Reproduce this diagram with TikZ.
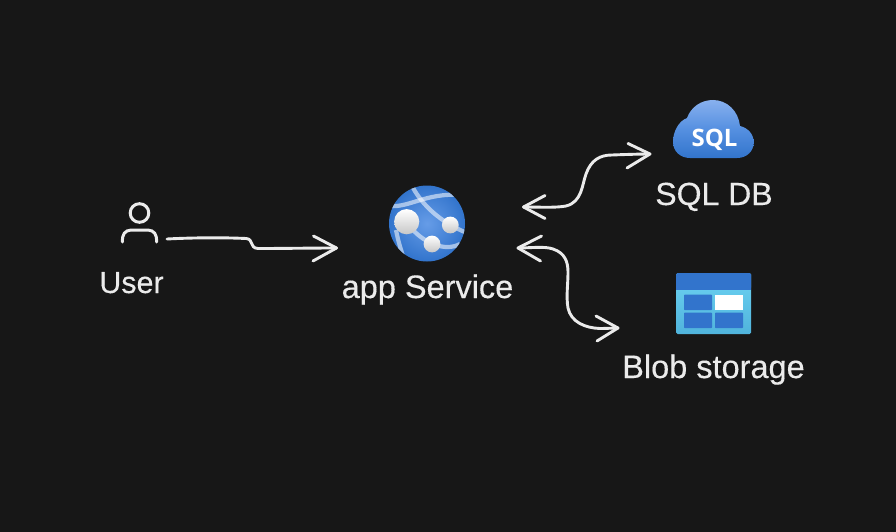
\documentclass[tikz,border=0pt]{standalone}
\usepackage{fontspec}
\setmainfont{Liberation Sans}
\newfontfamily\labelfont{Liberation Sans}[FakeBold=0.3]
\newfontfamily\sqlfont{Open Sans}
\definecolor{bg}{HTML}{171717}
\definecolor{ink}{HTML}{EBEBEB}
\definecolor{azure}{HTML}{3274CC}
\definecolor{azurelt}{HTML}{5E97E6}
\definecolor{azuresky}{HTML}{88B0EE}
\definecolor{blobsky}{HTML}{6DD2F2}
\definecolor{blobsea}{HTML}{50B4DC}
\tikzset{
  x=1pt,y=-1pt,
  label text/.style={text=ink,anchor=base,inner sep=0pt,font=\labelfont\fontsize{#1}{#1}\selectfont},
  wire/.style={draw=ink,line width=2.9pt,line cap=round,line join=round},
  glyph/.style={draw=ink,line width=3pt,line cap=round},
  cell/.style={fill=azure,rounded corners=0.6pt},
  ball/.style={top color=white,middle color=white,bottom color=white!78!black},
  mesh/.style={draw=white,draw opacity=0.55,line width=4.2pt},
}
\begin{document}
\begin{tikzpicture}
\useasboundingbox (0,0) rectangle (896,532);
\fill[bg] (0,0) rectangle (896,532);

% --- user icon
\draw[glyph] (139.5,213) circle (9.3);
\draw[glyph] (122.5,242) .. controls (122,234) and (125,230.5) .. (131,230) -- (148,230) .. controls (154,230.5) and (157,234) .. (156.5,242);
\node[label text=30.5] (user) at (131.5,293) {User};

% --- app service icon
\coordinate (appc) at (427,223.5);
\begin{scope}
  \clip (appc) circle (38);
  \shade[inner color=azurelt!95!white,outer color=azure] (appc) circle (38);
  \draw[mesh] (412,186) .. controls (422,205) and (440,222) .. (467,233);
  \draw[mesh] (390,206) .. controls (410,208) and (430,190) .. (468,196);
  \draw[mesh] (396,230) .. controls (398,240) and (400,247) .. (403,256);
  \draw[mesh] (413,230) .. controls (425,243) and (445,252) .. (460,244);
\end{scope}
\shade[ball] (406.7,221.7) circle (12.6);
\shade[ball] (450.3,225) circle (8.4);
\shade[ball] (432,244) circle (8.4);
\node[label text=32.5] (app) at (427.5,298) {app Service};

% --- SQL cloud icon
\shade[top color=azuresky,bottom color=azure,middle color=azurelt!80!azure]
  (690,158) -- (737,158)
  .. controls (747,158) and (753.7,151) .. (753.7,142.5)
  .. controls (753.7,134) and (748,128) .. (740,126)
  .. controls (738.5,111) and (727,100) .. (713,100)
  .. controls (701,100) and (691,107) .. (687,118)
  .. controls (679,121) and (673,131) .. (673,142)
  .. controls (673,151) and (680,158) .. (690,158) -- cycle;
\node[text=white,inner sep=0pt,anchor=base,font=\sqlfont\bfseries\fontsize{24}{24}\selectfont] (sqlmark) at (714.5,146.5) {SQL};
\node[label text=32] (sql) at (714,205) {SQL DB};

% --- blob storage icon
\shade[top color=blobsky,bottom color=blobsea,rounded corners=1.5pt] (676,273) rectangle (751,334);
\fill[azure,rounded corners=1.5pt] (676,273) rectangle (751,289);
\fill[azure] (676,285) rectangle (751,289.5);
\fill[cell] (684,294.7) rectangle (712,310);
\fill[white] (715,294.7) rectangle (743,310);
\fill[cell] (684,312.7) rectangle (712,328);
\fill[cell] (715,312.7) rectangle (743,328);
\node[label text=32.5] (blob) at (713.5,378) {Blob storage};

% --- connector end points
\coordinate (uout) at (167,239);
\coordinate (ain) at (336.5,248);
\coordinate (aoutA) at (523.5,207);
\coordinate (sqlin) at (650,154);
\coordinate (aoutB) at (518,248);
\coordinate (blobin) at (618,328);

% --- user -> app service
\draw[wire] (uout) .. controls (195,237.5) and (225,237.5) .. (246,238.5)
  .. controls (254,239) and (249,248) .. (258,248.5)
  .. controls (285,248.5) and (310,248) .. (ain);
\draw[wire] (313.5,236) -- (ain) -- (313,261);

% --- app service <-> SQL
\draw[wire] (aoutA) .. controls (540,207) and (555,208) .. (566,206)
  .. controls (582,202) and (582,185) .. (586,174)
  .. controls (591,160) and (600,155) .. (612,155)
  .. controls (625,154.5) and (640,154) .. (sqlin);
\draw[wire] (545,195.5) -- (aoutA) -- (545,218.5);
\draw[wire] (628,143.5) -- (sqlin) -- (627,168);

% --- app service <-> blob
\draw[wire] (aoutB) .. controls (530,248) and (545,246) .. (553,249)
  .. controls (565,253) and (568,262) .. (568,272)
  .. controls (568,285) and (566,296) .. (568,308)
  .. controls (571,322) and (585,328) .. (600,328.5)
  .. controls (607,328.5) and (613,328) .. (blobin);
\draw[wire] (541.5,236) -- (aoutB) -- (540.5,261);
\draw[wire] (596,316) -- (blobin) -- (597,341);
\end{tikzpicture}
\end{document}
